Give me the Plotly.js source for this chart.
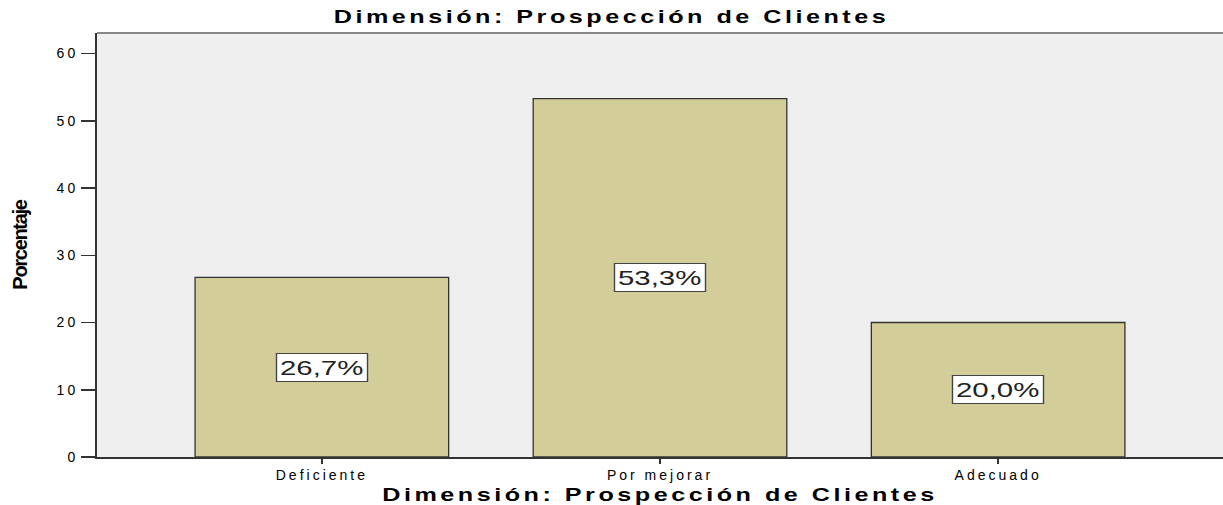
<!DOCTYPE html>
<html>
<head>
<meta charset="utf-8">
<script src="https://cdn.plot.ly/plotly-3.0.1.min.js"></script>
<style>
html,body{margin:0;padding:0;background:#fff;}
#chart{width:1223px;height:505px;}
.gtitle,.xtitle{letter-spacing:2.5px;transform:scaleX(1.4);transform-box:fill-box;transform-origin:center;}
.ytitle{letter-spacing:-1.3px;}
.xtick text,.ytick text{letter-spacing:3px;}
.annotation-text-g{transform:scaleX(1.4);transform-box:fill-box;transform-origin:center;}
</style>
</head>
<body>
<div id="chart"></div>
<script>
const categories = ["Deficiente", "Por mejorar", "Adecuado"];
const percentages = [26.7, 53.3, 20.0];
const labels = ["26,7%", "53,3%", "20,0%"];
const yTicks = [0, 10, 20, 30, 40, 50, 60];
const chartTitle = "Dimensión: Prospección de Clientes";
const xTitle = "Dimensión: Prospección de Clientes";
const yTitle = "Porcentaje";

const trace = {
  type: "bar",
  x: categories,
  y: percentages,
  width: 0.75,
  marker: {color: "#d3ce99", line: {color: "#333333", width: 1.3}},
  hoverinfo: "none"
};

const annotations = categories.map((c, i) => ({
  x: c, y: percentages[i] / 2, xref: "x", yref: "y",
  text: labels[i], showarrow: false,
  font: {family: "Liberation Sans, Arial, sans-serif", size: 21, color: "#222"},
  bgcolor: "#ffffff", bordercolor: "#444444", borderwidth: 1, borderpad: 2
}));

const layout = {
  width: 1223, height: 505,
  margin: {l: 97, r: 0, t: 33, b: 48},
  paper_bgcolor: "#ffffff",
  plot_bgcolor: "#efefef",
  showlegend: false,
  title: {text: chartTitle, x: 0.5, xanchor: "center", y: 0.966, yanchor: "middle",
          font: {family: "Liberation Sans, Arial, sans-serif", size: 18, color: "#000", weight: "bold"}},
  xaxis: {
    type: "category", range: [-0.665, 2.665],
    showgrid: false, zeroline: false,
    showline: true, linecolor: "#333", linewidth: 1.5,
    ticks: "outside", ticklen: 5, tickcolor: "#333", tickwidth: 1.5,
    tickfont: {family: "Liberation Sans, Arial, sans-serif", size: 14, color: "#000"},
    title: {text: xTitle, standoff: 6,
            font: {family: "Liberation Sans, Arial, sans-serif", size: 18, color: "#000", weight: "bold"}}
  },
  yaxis: {
    range: [0, 63.05], tickvals: yTicks, ticktext: yTicks.map(String),
    showgrid: false, zeroline: false,
    showline: true, linecolor: "#333", linewidth: 2,
    ticks: "outside", ticklen: 14, tickcolor: "#333", tickwidth: 1.5,
    tickfont: {family: "Liberation Sans, Arial, sans-serif", size: 14, color: "#000"},
    title: {text: yTitle, standoff: 24,
            font: {family: "Liberation Sans Narrow, Arial Narrow, sans-serif", size: 20, color: "#000", weight: "bold"}}
  },
  shapes: [{type: "line", xref: "paper", yref: "paper", x0: 0, x1: 1, y0: 1, y1: 1,
            line: {color: "#888888", width: 2}}],
  annotations: annotations
};

Plotly.newPlot("chart", [trace], layout, {staticPlot: true, displayModeBar: false});
</script>
</body>
</html>
